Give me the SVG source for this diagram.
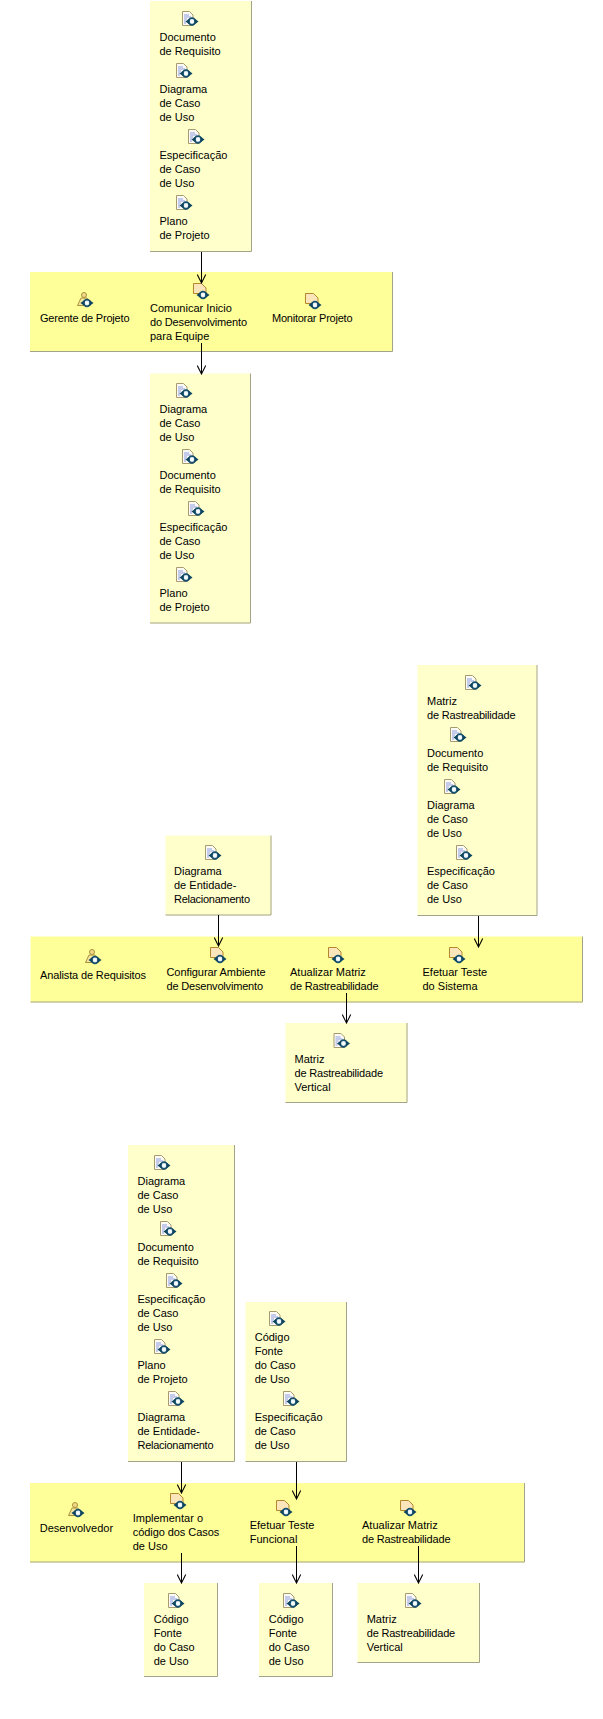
<svg xmlns="http://www.w3.org/2000/svg" width="603" height="1719" viewBox="0 0 603 1719">
<style>
text{font-family:"Liberation Sans",Arial,sans-serif;font-size:11px;fill:#000}
.box{fill:#ffffcc}
.ban{fill:#ffff99}
.edge{fill:none;stroke:#a3a38a;stroke-width:1}
.conn{fill:none;stroke:#000;stroke-width:1;marker-end:url(#open)}
</style>
<defs>
<marker id="open" markerUnits="userSpaceOnUse" markerWidth="10" markerHeight="10" refX="8.500" refY="4.500" orient="auto" viewBox="0 0 9.500 9"><path d="M.5 .5 8.500 4.500 .5 8.500" fill="none" stroke="#000"/></marker>
<g id="badge"><circle cx="10" cy="10.500" r="3.300" fill="#e4f0f6" stroke="#17506c" stroke-width="1.700"/><path d="M12.500 7.500 16.500 10.500 12.500 13.500ZM7.500 7.500 3.500 10.500 7.500 13.500Z" fill="#0e4560"/><circle cx="10" cy="10.500" r="1.300" fill="#fff"/></g>
<g id="doc"><path d="M.5 .5H7.500L11 4V14.500H.5Z" fill="#fbfbf4" stroke="#a89a70"/><path d="M2 4H7M2 6H9M2 8H5M2 10H4M2 12H4" stroke="#8f9be0"/><use href="#badge"/></g>
<g id="act"><path d="M.5 .5H8.500L13 5V10.500H.5Z" fill="#fbe6bc" stroke="#b3872c"/><use href="#badge" transform="translate(0 1.500)"/></g>
<g id="role"><circle cx="7" cy="3" r="2.500" fill="#f2d98a" stroke="#a8913a"/><path d="M4 6H10L13 13.500H.5Z" fill="#f3e6a0" stroke="#a8913a"/><use href="#badge" transform="translate(0 .500)"/></g>
</defs>
<rect width="603" height="1719" fill="#fff"/>

<g id="in-1">
<rect class="box" x="150" y="1" width="102" height="251"/><path class="edge" d="M150 251.500H251.500V1"/>
<use href="#doc" x="182" y="11"/><text x="159.500" y="41">Documento<tspan x="159.500" dy="14">de Requisito</tspan></text>
<use href="#doc" x="176" y="63"/><text x="159.500" y="93">Diagrama<tspan x="159.500" dy="14">de Caso</tspan><tspan x="159.500" dy="14">de Uso</tspan></text>
<use href="#doc" x="188" y="129"/><text x="159.500" y="159">Especificação<tspan x="159.500" dy="14">de Caso</tspan><tspan x="159.500" dy="14">de Uso</tspan></text>
<use href="#doc" x="176" y="195"/><text x="159.500" y="225">Plano<tspan x="159.500" dy="14">de Projeto</tspan></text>
</g>

<g id="banner-1">
<rect class="ban" x="30" y="272" width="363" height="80"/><path class="edge" d="M30 351.500H392.500V272"/>
<g id="role-gerente"><use href="#role" x="77" y="292"/><text x="40" y="322"><tspan textLength="89.500">Gerente de Projeto</tspan></text></g>
<g id="act-comunicar"><use href="#act" x="193" y="283"/><text x="150" y="312">Comunicar Inicio<tspan x="150" dy="14" textLength="97">do Desenvolvimento</tspan><tspan x="150" dy="14">para Equipe</tspan></text></g>
<g id="act-monitorar"><use href="#act" x="305" y="293"/><text x="272" y="322"><tspan textLength="80.500">Monitorar Projeto</tspan></text></g>
</g>

<g id="out-1">
<rect class="box" x="150" y="373.500" width="101" height="250"/><path class="edge" d="M150 623H250.500V373.500"/>
<use href="#doc" x="176" y="383"/><text x="159.500" y="413">Diagrama<tspan x="159.500" dy="14">de Caso</tspan><tspan x="159.500" dy="14">de Uso</tspan></text>
<use href="#doc" x="182" y="449"/><text x="159.500" y="479">Documento<tspan x="159.500" dy="14">de Requisito</tspan></text>
<use href="#doc" x="188" y="501"/><text x="159.500" y="531">Especificação<tspan x="159.500" dy="14">de Caso</tspan><tspan x="159.500" dy="14">de Uso</tspan></text>
<use href="#doc" x="176" y="567"/><text x="159.500" y="597">Plano<tspan x="159.500" dy="14">de Projeto</tspan></text>
</g>

<g id="in-2a">
<rect class="box" x="165.500" y="835.500" width="106" height="80"/><path class="edge" d="M165.500 915H271V835.500"/>
<use href="#doc" x="205" y="845"/><text x="174" y="875">Diagrama<tspan x="174" dy="14">de Entidade-</tspan><tspan x="174" dy="14" textLength="76">Relacionamento</tspan></text>
</g>

<g id="in-2b">
<rect class="box" x="417.500" y="665" width="119.500" height="251"/><path class="edge" d="M417.500 915.500H537V665"/>
<use href="#doc" x="465" y="675"/><text x="427" y="705">Matriz<tspan x="427" dy="14" textLength="88.500">de Rastreabilidade</tspan></text>
<use href="#doc" x="450" y="727"/><text x="427" y="757">Documento<tspan x="427" dy="14">de Requisito</tspan></text>
<use href="#doc" x="444" y="779"/><text x="427" y="809">Diagrama<tspan x="427" dy="14">de Caso</tspan><tspan x="427" dy="14">de Uso</tspan></text>
<use href="#doc" x="456" y="845"/><text x="427" y="875">Especificação<tspan x="427" dy="14">de Caso</tspan><tspan x="427" dy="14">de Uso</tspan></text>
</g>

<g id="banner-2">
<rect class="ban" x="30.500" y="936.500" width="552.500" height="66"/><path class="edge" d="M30.500 1002H582.500V936.500"/>
<g id="role-analista"><use href="#role" x="85" y="949"/><text x="40" y="979"><tspan textLength="106">Analista de Requisitos</tspan></text></g>
<g id="act-configurar"><use href="#act" x="210" y="947"/><text x="166.500" y="976"><tspan textLength="99">Configurar Ambiente</tspan><tspan x="166.500" dy="14" textLength="96.500">de Desenvolvimento</tspan></text></g>
<g id="act-atualizar-2"><use href="#act" x="328" y="947"/><text x="290" y="976">Atualizar Matriz<tspan x="290" dy="14" textLength="88.500">de Rastreabilidade</tspan></text></g>
<g id="act-efetuar-sistema"><use href="#act" x="449" y="947"/><text x="422.500" y="976">Efetuar Teste<tspan x="422.500" dy="14">do Sistema</tspan></text></g>
</g>

<g id="out-2">
<rect class="box" x="285.500" y="1023" width="122" height="80"/><path class="edge" d="M285.500 1102.500H407V1023"/>
<use href="#doc" x="333.500" y="1033"/><text x="294.500" y="1063">Matriz<tspan x="294.500" dy="14" textLength="88.500">de Rastreabilidade</tspan><tspan x="294.500" dy="14">Vertical</tspan></text>
</g>

<g id="in-3a">
<rect class="box" x="128" y="1145" width="107" height="317"/><path class="edge" d="M128 1461.500H234.500V1145"/>
<use href="#doc" x="154" y="1155"/><text x="137.500" y="1185">Diagrama<tspan x="137.500" dy="14">de Caso</tspan><tspan x="137.500" dy="14">de Uso</tspan></text>
<use href="#doc" x="160" y="1221"/><text x="137.500" y="1251">Documento<tspan x="137.500" dy="14">de Requisito</tspan></text>
<use href="#doc" x="166" y="1273"/><text x="137.500" y="1303">Especificação<tspan x="137.500" dy="14">de Caso</tspan><tspan x="137.500" dy="14">de Uso</tspan></text>
<use href="#doc" x="154" y="1339"/><text x="137.500" y="1369">Plano<tspan x="137.500" dy="14">de Projeto</tspan></text>
<use href="#doc" x="168" y="1391"/><text x="137.500" y="1421">Diagrama<tspan x="137.500" dy="14">de Entidade-</tspan><tspan x="137.500" dy="14" textLength="76">Relacionamento</tspan></text>
</g>

<g id="in-3b">
<rect class="box" x="245.500" y="1302" width="101.500" height="160"/><path class="edge" d="M245.500 1461.500H346.500V1302"/>
<use href="#doc" x="269" y="1311"/><text x="254.700" y="1341">Código<tspan x="254.700" dy="14">Fonte</tspan><tspan x="254.700" dy="14">do Caso</tspan><tspan x="254.700" dy="14">de Uso</tspan></text>
<use href="#doc" x="283" y="1391"/><text x="254.700" y="1421">Especificação<tspan x="254.700" dy="14">de Caso</tspan><tspan x="254.700" dy="14">de Uso</tspan></text>
</g>

<g id="banner-3">
<rect class="ban" x="30" y="1483" width="495" height="79.500"/><path class="edge" d="M30 1562H524.500V1483"/>
<g id="role-desenvolvedor"><use href="#role" x="68" y="1502"/><text x="39.700" y="1532">Desenvolvedor</text></g>
<g id="act-implementar"><use href="#act" x="170" y="1493"/><text x="132.700" y="1522">Implementar o<tspan x="132.700" dy="14" textLength="86.500">código dos Casos</tspan><tspan x="132.700" dy="14">de Uso</tspan></text></g>
<g id="act-efetuar-funcional"><use href="#act" x="276" y="1500"/><text x="249.700" y="1529">Efetuar Teste<tspan x="249.700" dy="14">Funcional</tspan></text></g>
<g id="act-atualizar-3"><use href="#act" x="400" y="1500"/><text x="362" y="1529">Atualizar Matriz<tspan x="362" dy="14" textLength="88.500">de Rastreabilidade</tspan></text></g>
</g>

<g id="out-3a">
<rect class="box" x="144" y="1583" width="74" height="94"/><path class="edge" d="M144 1676.500H217.500V1583"/>
<use href="#doc" x="168" y="1593"/><text x="153.700" y="1623">Código<tspan x="153.700" dy="14">Fonte</tspan><tspan x="153.700" dy="14">do Caso</tspan><tspan x="153.700" dy="14">de Uso</tspan></text>
</g>
<g id="out-3b">
<rect class="box" x="259" y="1583" width="74" height="94"/><path class="edge" d="M259 1676.500H332.500V1583"/>
<use href="#doc" x="283" y="1593"/><text x="268.700" y="1623">Código<tspan x="268.700" dy="14">Fonte</tspan><tspan x="268.700" dy="14">do Caso</tspan><tspan x="268.700" dy="14">de Uso</tspan></text>
</g>
<g id="out-3c">
<rect class="box" x="357.500" y="1583" width="122.500" height="80"/><path class="edge" d="M357.500 1662.500H479.500V1583"/>
<use href="#doc" x="405" y="1593"/><text x="366.700" y="1623">Matriz<tspan x="366.700" dy="14" textLength="88.500">de Rastreabilidade</tspan><tspan x="366.700" dy="14">Vertical</tspan></text>
</g>

<g id="connectors">
<path class="conn" d="M201.500 252V283"/>
<path class="conn" d="M201.500 343V374"/>
<path class="conn" d="M218.500 915V946"/>
<path class="conn" d="M478.500 916V947"/>
<path class="conn" d="M346.500 993V1023"/>
<path class="conn" d="M181.500 1462V1493"/>
<path class="conn" d="M296.500 1462V1499"/>
<path class="conn" d="M181.500 1553V1583"/>
<path class="conn" d="M296.500 1546V1583"/>
<path class="conn" d="M418.500 1546V1583"/>
</g>
</svg>
